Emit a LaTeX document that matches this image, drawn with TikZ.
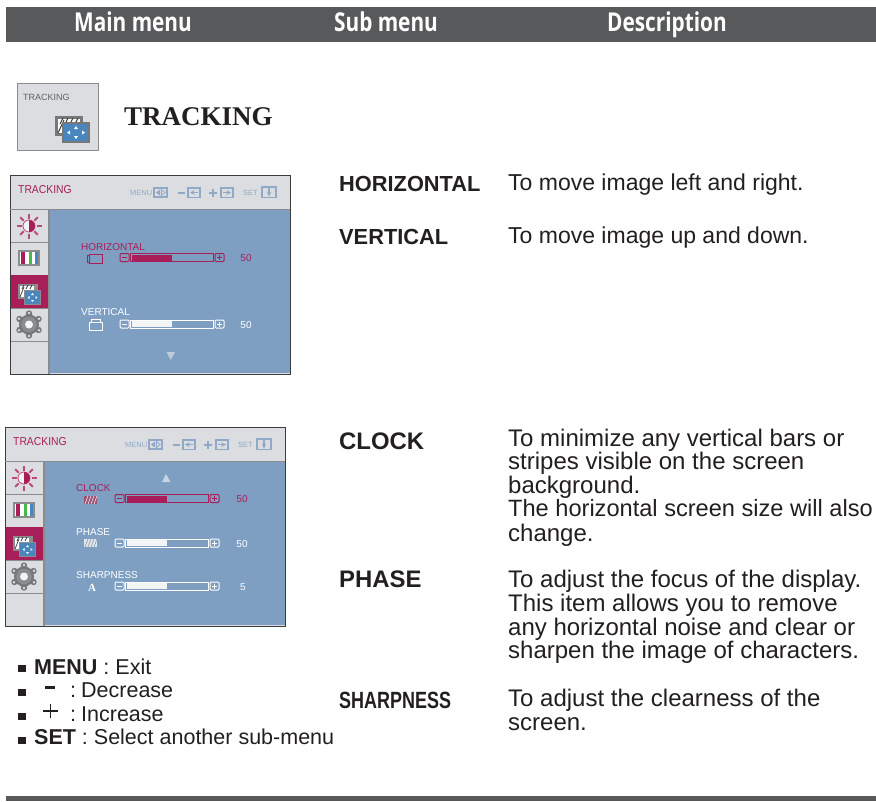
\documentclass[tikz,border=0pt]{standalone}
\usepackage{fontspec}
\setmainfont{Liberation Sans}
\newfontfamily\serifb{Liberation Serif}
\newfontfamily\headf{Open Sans}
\usetikzlibrary{calc}
\definecolor{barg}{HTML}{58595B}
\definecolor{panel}{HTML}{DCDDE1}
\definecolor{bluep}{HTML}{7E9FC1}
\definecolor{crim}{HTML}{A81E58}
\definecolor{ink}{HTML}{231F20}
\definecolor{dk}{HTML}{3A3C3E}
\definecolor{midg}{HTML}{8A8C8E}
\definecolor{iconb}{HTML}{8FA9C6}
\definecolor{mblue}{HTML}{4A86BE}
\definecolor{lite}{HTML}{F2F4F6}
\tikzset{
  headt/.style={anchor=base,text=white,xscale=.8,font=\headf\bfseries\fontsize{26}{26}\selectfont,inner sep=0pt},
  itemt/.style={anchor=base west,text=ink,font=\bfseries\fontsize{21.8}{21.8}\selectfont,inner sep=0pt},
  itemb/.style={anchor=base west,text=ink,font=\bfseries\fontsize{23.9}{23.9}\selectfont,inner sep=0pt},
  desct/.style={anchor=base west,text=ink,font=\fontsize{23}{23}\selectfont,inner sep=0pt},
  descb/.style={anchor=base west,text=ink,font=\fontsize{24}{24}\selectfont,inner sep=0pt},
  descw/.style={anchor=base west,text=ink,font=\fontsize{23.6}{23.6}\selectfont,inner sep=0pt},
  legt/.style={anchor=base west,text=ink,font=\fontsize{21.5}{21.5}\selectfont,inner sep=0pt},
  osd/.style={anchor=base west,inner sep=0pt,font=\fontsize{10}{10}\selectfont},
  tiny/.style={anchor=base west,inner sep=0pt,text=iconb,font=\fontsize{7.5}{7.5}\selectfont},
  ico/.style={draw=iconb,line width=1.1pt}
}
\newcommand{\panelbase}[2]{%
 \begin{scope}[shift={(#1,#2)}]
  \fill[panel] (0,0) rectangle (280,199);
  \fill[bluep] (39,34) rectangle (280,198);
  \foreach \yy in {34,67,100,133,166}{\draw[midg,line width=1pt] (0,\yy) -- (39,\yy);}
  \fill[crim] (1,100) rectangle (39,133);
  \draw[dk,line width=1pt] (0,199) -- (0,0) -- (280,0) -- (280,199) -- cycle;
  \draw[midg,line width=1pt] (0,34) -- (280,34);
  \draw[midg,line width=1.2pt] (39,34) -- (39,199);
  \node[osd,text=crim,xscale=.9,font=\fontsize{11.5}{11.5}\selectfont] at (8,18) {TRACKING};
  \node[tiny] at (120,20.5) {MENU};
  \draw[ico] (144,13) rectangle (157,22);
  \fill[iconb] (146,17.5) -- (150,14.5) -- (150,20.5) -- cycle;
  \draw[iconb,line width=.8pt] (155,17.5) -- (151.5,14.5) -- (151.5,20.5) -- cycle;
  \draw[iconb,line width=1.8pt] (168,18) -- (175,18);
  \draw[ico] (178,13) rectangle (190,22.5);
  \draw[iconb,line width=1.1pt,-stealth] (188,17.5) -- (180,17.5);
  \draw[iconb,line width=1.8pt] (199,18) -- (207,18);
  \draw[iconb,line width=1.8pt] (203,14) -- (203,22);
  \draw[ico] (211,13) rectangle (223,22.5);
  \draw[iconb,line width=1.1pt,-stealth] (213,17.5) -- (221,17.5);
  \node[tiny] at (233,20.5) {SET};
  \draw[ico] (252,12) rectangle (266,22.5);
  \draw[iconb,line width=1.1pt,-stealth] (259,13) -- (259,21.5);
  % brightness icon
  \foreach \a in {0,45,...,315}{\draw[crim!80!white,line width=2pt] ($(19,51)+(\a:7.5)$) -- ($(19,51)+(\a:12.5)$);}
  \fill[lite] (19,51) circle (6);
  \draw[crim!80!white,line width=.8pt] (19,51) circle (6);
  \fill[crim] (19,45) arc (-90:90:6) -- cycle;
  % colour icon
  \fill[midg] (8,75) rectangle (30,91);
  \fill[white] (10,77) rectangle (28,89);
  \fill[crim] (11,77) rectangle (15,89);
  \fill[green!45!gray] (18.5,77) rectangle (22,89);
  \fill[mblue] (24.5,77) rectangle (28,89);
  % tracking icon
  \fill[midg] (8,109) rectangle (28,124);
  \fill[white] (10,111) rectangle (24,122);
  \foreach \i in {0,4,8}{\draw[dk,line width=.7pt] (12+\i,114) -- (14+\i,110);}
  \draw[dk,line width=.7pt] (10,122) -- (14,112);
  \fill[midg] (14,115) rectangle (31,130);
  \fill[mblue] (15,116) rectangle (30,129);
  \fill[white] (22.5,118) -- (21,120) -- (24,120) -- cycle;
  \fill[white] (22.5,127) -- (21,125) -- (24,125) -- cycle;
  \fill[white] (17.5,122.5) -- (19.5,121) -- (19.5,124) -- cycle;
  \fill[white] (27.5,122.5) -- (25.5,121) -- (25.5,124) -- cycle;
  % gear icon
  \foreach \a in {30,90,...,330}{\fill[dk!70!white] ($(19,149.5)+(\a:11)$) circle (3.2);\fill[panel] ($(19,149.5)+(\a:11.5)$) circle (1.3);}
  \fill[dk!70!white] (19,149.5) circle (10);
  \fill[midg] (19,149.5) circle (7.8);
  \fill[lite] (19,149.5) circle (4);
 \end{scope}}
\newcommand{\sliderrow}[6]{%
  \draw[#3,line width=1pt,rounded corners=1pt] (#1,#2-4) rectangle ++(9,8);
  \draw[#3,line width=1pt] (#1+2,#2) -- ++(5,0);
  \draw[#3,line width=1pt] (#1+10.5,#2-4) rectangle ++(83,8);
  \fill[#4] (#1+11.5,#2-3) rectangle ++(40,6);
  \draw[#3,line width=1pt,rounded corners=1pt] (#1+95,#2-4) rectangle ++(9,8);
  \draw[#3,line width=1pt] (#1+97,#2) -- ++(5,0);
  \draw[#3,line width=1pt] (#1+99.5,#2-2.5) -- ++(0,5);
  \node[osd,anchor=base,text=#3] at (#6,#2+4) {#5};
}
\begin{document}
\begin{tikzpicture}[x=1pt,y=-1pt]
\useasboundingbox (0,0) rectangle (876,801);
\fill[white] (0,0) rectangle (876,801);
\fill[barg] (6,7) rectangle (876,42);
\fill[barg] (6,796) rectangle (876,801);
\node[headt] (h1) at (133,31) {Main menu};
\node[headt] (h2) at (386,31) {Sub menu};
\node[headt] (h3) at (667,31) {Description};
% tracking icon
\fill[panel,draw=midg,line width=1pt] (17,83) rectangle (98,150);
\node[anchor=base west,inner sep=0pt,text=midg!70!black,font=\fontsize{9}{9}\selectfont] (ic) at (23,100) {TRACKING};
\fill[dk!70!white] (55,116) rectangle (83,136);
\fill[white] (58,119) rectangle (80,133);
\foreach \i in {0,5,10,15}{\draw[dk,line width=1pt] (60+\i,124) -- (63+\i,118);}
\draw[dk,line width=1pt] (58,133) -- (64,120);
\fill[dk!70!white] (62,122) rectangle (90,143);
\fill[mblue] (64,124) rectangle (88,141);
\fill[white] (76,126) -- (74,129) -- (78,129) -- cycle;
\fill[white] (76,139) -- (74,136) -- (78,136) -- cycle;
\fill[white] (67,132.5) -- (70,130.5) -- (70,134.5) -- cycle;
\fill[white] (85,132.5) -- (82,130.5) -- (82,134.5) -- cycle;
\node[anchor=base west,inner sep=0pt,text=ink,font=\serifb\bfseries\fontsize{27}{27}\selectfont] (title) at (124,125.5) {TRACKING};
% first panel
\panelbase{10}{175}
\node[osd,text=crim] at (81,250) {HORIZONTAL};
\draw[crim,line width=1pt] (89,254) rectangle ++(13,9);
\draw[crim,line width=1pt] (89,255) -- (87,255) -- (87,262) -- (89,262);
\sliderrow{120}{257.5}{crim}{crim}{50}{246}
\node[osd,text=white] at (81,315) {VERTICAL};
\draw[white,line width=1pt] (89,322) rectangle ++(13,8);
\draw[white,line width=1pt] (91,322) -- (91,319) -- (100,319) -- (100,322);
\sliderrow{120}{324}{white}{lite}{50}{246}
\fill[iconb!60!white] (166.5,352) -- (175,352) -- (170.7,360) -- cycle;
% second panel
\panelbase{5}{427}
\fill[iconb!50!white] (162,482) -- (170.5,482) -- (166,474) -- cycle;
\node[osd,text=crim] at (76,491) {CLOCK};
\fill[crim!50!midg] (84,496) rectangle (97,504);
\foreach \i in {0,3,...,9}{\draw[white,line width=.5pt] (85+\i,504) -- (88+\i,496);}
\sliderrow{115}{498.5}{crim}{crim}{50}{242}
\node[osd,text=white] at (76,535) {PHASE};
\fill[iconb!30!white] (84,539) rectangle (97,547);
\foreach \i in {0,3,...,9}{\draw[midg,line width=.5pt] (85+\i,547) -- (88+\i,539);}
\sliderrow{115}{543}{white}{lite}{50}{242}
\node[osd,text=white] at (76,578) {SHARPNESS};
\node[anchor=base,inner sep=0pt,text=white,font=\serifb\bfseries\fontsize{11}{11}\selectfont] (aa) at (92,591) {A};
\sliderrow{115}{586}{white}{lite}{5}{243}
% item labels
\node[itemt] (i1) at (339,191.5) {HORIZONTAL};
\node[itemt] (i2) at (339,244.5) {VERTICAL};
\node[itemb] (i3) at (339,449) {CLOCK};
\node[itemb] (i4) at (339,587) {PHASE};
\node[itemt,xscale=.765,font=\bfseries\fontsize{23.5}{23.5}\selectfont] (i5) at (339,708) {SHARPNESS};
% descriptions
\node[desct] (d1) at (508,190) {To move image left and right.};
\node[desct] (d2) at (508,243) {To move image up and down.};
\node[descb] (d3a) at (508,446) {To minimize any vertical bars or};
\node[descb] (d3b) at (508,469) {stripes visible on the screen};
\node[descb] (d3c) at (508,493) {background.};
\node[descw] (d3d) at (508,516) {The horizontal screen size will also};
\node[descb] (d3e) at (508,541) {change.};
\node[descb] (d4a) at (508,587) {To adjust the focus of the display.};
\node[descb] (d4b) at (508,611) {This item allows you to remove};
\node[descb] (d4c) at (508,635) {any horizontal noise and clear or};
\node[descb] (d4d) at (508,658) {sharpen the image of characters.};
\node[descb] (d5a) at (508,706) {To adjust the clearness of the};
\node[descb] (d5b) at (508,730) {screen.};
% legend
\foreach \yy in {667,691,715,739}{\fill[ink] (18,\yy-2.5) rectangle ++(8,7);}
\node[legt] (l1) at (34,674) {\textbf{MENU} : Exit};
\node[legt] (l2) at (70,697) {:\kern5pt Decrease};
\node[legt] (l3) at (70,721) {:\kern5pt Increase};
\node[legt] (l4) at (34,744) {\textbf{SET} : Select another sub-menu};
\fill[ink] (45,686) rectangle (55,689);
\draw[ink,line width=1.8pt] (43,711) -- (58,711);
\draw[ink,line width=1.8pt] (50.5,704) -- (50.5,718);
\end{tikzpicture}
\end{document}
